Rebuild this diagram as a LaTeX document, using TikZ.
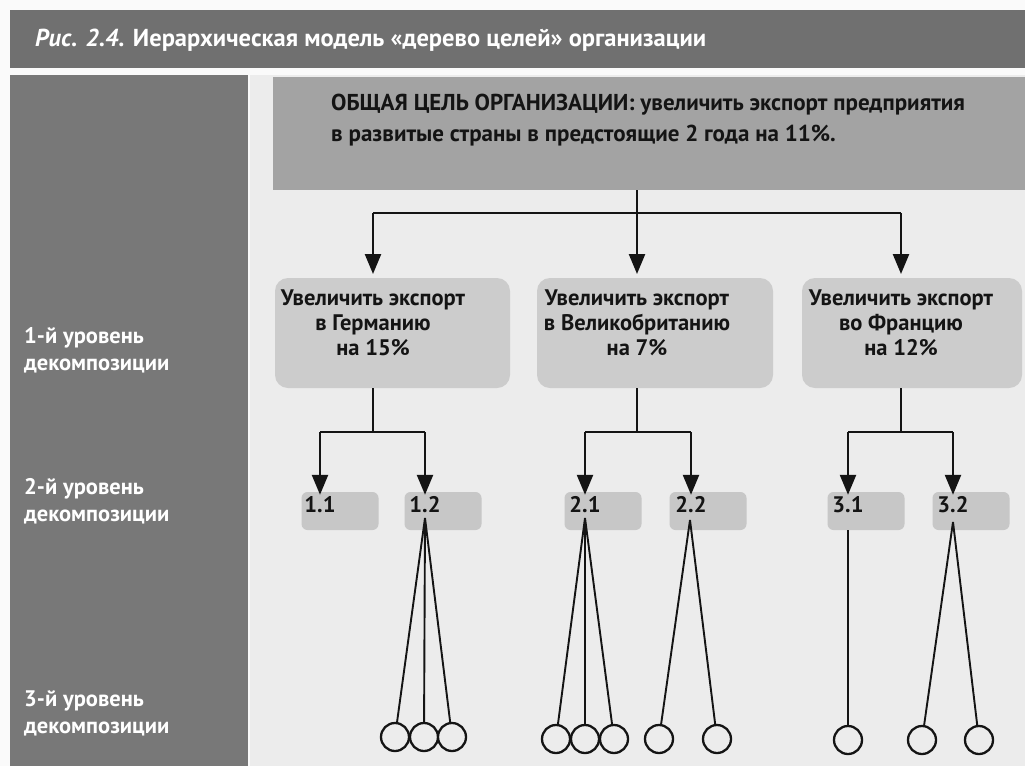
\documentclass[tikz,border=0pt]{standalone}
\usepackage{fontspec}
\setmainfont{PT Sans}
\usetikzlibrary{arrows.meta}

\definecolor{paper}{gray}{0.925}
\definecolor{sheet}{gray}{0.98}
\definecolor{band}{gray}{0.44}
\definecolor{column}{gray}{0.47}
\definecolor{goalfill}{gray}{0.64}
\definecolor{boxfill}{gray}{0.80}
\definecolor{subfill}{gray}{0.78}
\definecolor{ink}{gray}{0.08}

\tikzset{
  goalbox/.style={rectangle, fill=goalfill, inner sep=0pt},
  lvlbox/.style={rectangle, rounded corners=13pt, fill=boxfill, inner sep=0pt},
  subbox/.style={rectangle, rounded corners=6pt, fill=subfill, inner sep=0pt,
    minimum width=77pt, minimum height=38pt},
  boxtext/.style={font=\bfseries\fontsize{22.5}{25}\selectfont, text=ink, align=center, inner sep=0pt},
  sidetext/.style={font=\bfseries\fontsize{22.5}{27}\selectfont, text=white, align=left,
    anchor=west, inner sep=0pt},
  subtext/.style={font=\bfseries\fontsize{22.5}{24}\selectfont, text=ink, inner sep=0pt},
  link/.style={draw=ink, line width=2.4pt},
  arrow/.style={link, -{Triangle[width=16pt,length=20pt]}},
  twig/.style={draw=ink, line width=1.9pt},
  leaf/.style={circle, draw=ink, line width=2.3pt, fill=paper, minimum size=28pt, inner sep=0pt},
}

\begin{document}
\begin{tikzpicture}[x=1pt, y=-1pt]
  \useasboundingbox (0,0) rectangle (1025,766);

  % page, title band and level column
  \fill[sheet] (0,0) rectangle (1025,766);
  \fill[paper] (250,75) rectangle (1025,766);
  \fill[band] (10,10) rectangle (1025,68);
  \fill[column] (10,75) rectangle (248,766);

  \node[anchor=west, inner sep=0pt, text=white,
        font=\bfseries\fontsize{24.5}{26}\selectfont] (title) at (35,40)
    {\itshape Рис. 2.4. \upshape Иерархическая модель «дерево целей» организации};

  % level captions
  \node[sidetext] (lev1) at (24,350) {1-й уровень\\декомпозиции};
  \node[sidetext] (lev2) at (24,501) {2-й уровень\\декомпозиции};
  \node[sidetext] (lev3) at (24,713) {3-й уровень\\декомпозиции};

  % general goal
  \node[goalbox, minimum width=752pt, minimum height=113pt] (goal) at (649,133.5) {};
  \node[anchor=west, inner sep=0pt, text=ink, align=left,
        font=\bfseries\fontsize{23}{31}\selectfont] (goaltext) at (331,120)
    {ОБЩАЯ ЦЕЛЬ ОРГАНИЗАЦИИ: увеличить экспорт предприятия\\
     в развитые страны в предстоящие 2 года на 11\%.};

  % first level
  \node[lvlbox, minimum width=235pt, minimum height=110pt] (b1) at (392.5,333) {};
  \node[lvlbox, minimum width=236pt, minimum height=110pt] (b2) at (655,333) {};
  \node[lvlbox, minimum width=220pt, minimum height=110pt] (b3) at (912,333) {};
  \node[boxtext] (t1) at (373,323) {Увеличить экспорт\\в Германию\\на 15\%};
  \node[boxtext] (t2) at (637,323) {Увеличить экспорт\\в Великобританию\\на 7\%};
  \node[boxtext] (t3) at (901,323) {Увеличить экспорт\\во Францию\\на 12\%};

  \coordinate (a1) at (373,274);
  \coordinate (a2) at (637,274);
  \coordinate (a3) at (901,274);

  \draw[link] (goal.south -| a2) -- ++(0,23) coordinate (j0);
  \draw[link] (j0 -| a1) -- (j0 -| a3);
  \foreach \k in {1,2,3} \draw[arrow] (j0 -| a\k) -- (a\k);

  % second level
  \node[subbox] (s11) at (340,511) {};
  \node[subbox] (s12) at (443,511) {};
  \node[subbox] (s21) at (603,511) {};
  \node[subbox] (s22) at (708,511) {};
  \node[subbox] (s31) at (866,511) {};
  \node[subbox] (s32) at (971,511) {};
  \node[subtext] (n11) at (320,505) {1.1};
  \node[subtext] (n12) at (425,505) {1.2};
  \node[subtext] (n21) at (585,505) {2.1};
  \node[subtext] (n22) at (691,505) {2.2};
  \node[subtext] (n31) at (848,505) {3.1};
  \node[subtext] (n32) at (953,505) {3.2};

  \foreach \b/\l/\r in {1/11/12, 2/21/22, 3/31/32} {
    \draw[link] (b\b.south -| t\b) -- ++(0,44) coordinate (j\b);
    \draw[link] (j\b -| n\l) -- (j\b -| n\r);
    \draw[arrow] (j\b -| n\l) -- ([yshift=-3pt]s\l.north -| n\l);
    \draw[arrow] (j\b -| n\r) -- ([yshift=-3pt]s\r.north -| n\r);
  }

  % third level
  \node[leaf] (c1) at (395,737) {};
  \node[leaf] (c2) at (424,737) {};
  \node[leaf] (c3) at (452,737) {};
  \node[leaf] (c4) at (556,739) {};
  \node[leaf] (c5) at (585,739) {};
  \node[leaf] (c6) at (614,739) {};
  \node[leaf] (c7) at (659,739) {};
  \node[leaf] (c8) at (717,739) {};
  \node[leaf] (c9) at (848,740) {};
  \node[leaf] (c10) at (922,740) {};
  \node[leaf] (c11) at (979,740) {};

  \coordinate (r12) at (425,518);
  \coordinate (r21) at (585,518);
  \coordinate (r22) at (690,520);
  \coordinate (r32) at (953,522);

  \foreach \c in {1,2,3} \draw[twig] (r12) -- (c\c);
  \foreach \c in {4,5,6} \draw[twig] (r21) -- (c\c);
  \foreach \c in {7,8} \draw[twig] (r22) -- (c\c);
  \draw[twig] (s31.south -| n31) -- (c9);
  \foreach \c in {10,11} \draw[twig] (r32) -- (c\c);
\end{tikzpicture}
\end{document}
